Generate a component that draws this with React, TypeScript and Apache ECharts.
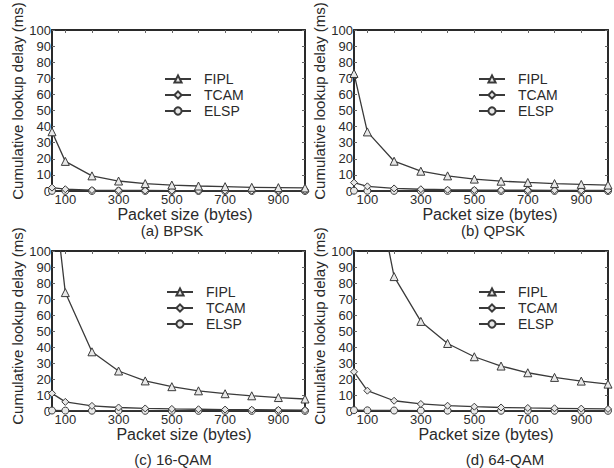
import React, { useEffect, useRef } from "react";
import * as echarts from "echarts";

const packetSizes = [50, 100, 200, 300, 400, 500, 600, 700, 800, 900, 1000];
const xLabelValues = [100, 300, 500, 700, 900];
const xTickValues = [100, 200, 300, 400, 500, 600, 700, 800, 900];
const seriesNames = ["FIPL", "TCAM", "ELSP"];
const panelCaptions = ["(a) BPSK", "(b) QPSK", "(c) 16-QAM", "(d) 64-QAM"];

const bpskFIPL = [36.8, 18.4, 9.4, 6.2, 4.6, 3.7, 3.1, 2.7, 2.3, 2.1, 1.9];
const bpskTCAM = [2.1, 1.1, 0.6, 0.4, 0.3, 0.25, 0.2, 0.18, 0.16, 0.14, 0.12];
const bpskELSP = [0.1, 0.08, 0.06, 0.05, 0.05, 0.04, 0.04, 0.04, 0.03, 0.03, 0.03];

const qpskFIPL = [73, 36.7, 18.5, 12.3, 9.4, 7.4, 6.1, 5.3, 4.6, 4.1, 3.7];
const qpskTCAM = [5.2, 2.9, 1.6, 1.1, 0.8, 0.65, 0.55, 0.5, 0.45, 0.4, 0.35];
const qpskELSP = [0.2, 0.15, 0.1, 0.08, 0.07, 0.06, 0.05, 0.05, 0.04, 0.04, 0.04];

const qam16FIPL = [147, 74, 37, 25, 18.8, 15.2, 12.6, 10.8, 9.5, 8.4, 7.5];
const qam16TCAM = [11, 5.7, 3.2, 2.2, 1.6, 1.3, 1.1, 0.9, 0.8, 0.7, 0.6];
const qam16ELSP = [0.3, 0.25, 0.2, 0.15, 0.12, 0.1, 0.1, 0.09, 0.08, 0.08, 0.07];

const qam64FIPL = [336, 168, 84, 56, 42.2, 33.9, 28.1, 23.9, 21, 18.7, 16.8];
const qam64TCAM = [24.5, 12.7, 6.4, 4.4, 3.3, 2.7, 2.2, 1.9, 1.7, 1.5, 1.3];
const qam64ELSP = [0.5, 0.4, 0.3, 0.25, 0.2, 0.18, 0.16, 0.15, 0.14, 0.13, 0.12];

const panelData = [
  [bpskFIPL, bpskTCAM, bpskELSP],
  [qpskFIPL, qpskTCAM, qpskELSP],
  [qam16FIPL, qam16TCAM, qam16ELSP],
  [qam64FIPL, qam64TCAM, qam64ELSP],
];

const FONT = "'Liberation Sans', Arial, Helvetica, sans-serif";
const INK = "#2a2a2a";

const grids = [
  { left: 52, top: 30, width: 253, height: 161 },
  { left: 354, top: 30, width: 254, height: 161 },
  { left: 52, top: 251, width: 253, height: 160 },
  { left: 354, top: 251, width: 254, height: 160 },
];
const legendPos = [
  { left: 164, top: 72 },
  { left: 478, top: 72 },
  { left: 166, top: 285 },
  { left: 478, top: 285 },
];
const yNamePos = [
  { x: 17, y: 101 },
  { x: 319, y: 101 },
  { x: 17, y: 326 },
  { x: 319, y: 326 },
];
const xNamePos = [
  { x: 185, y: 214 },
  { x: 490, y: 214 },
  { x: 184, y: 434 },
  { x: 486, y: 434 },
];
const captionPos = [
  { x: 172, y: 230 },
  { x: 493, y: 230 },
  { x: 173, y: 459 },
  { x: 505, y: 459 },
];
const symbols = ["triangle", "diamond", "circle"];

function buildOption() {
  const xAxis: any[] = [];
  const yAxis: any[] = [];
  const series: any[] = [];
  const legend: any[] = [];
  const graphic: any[] = [];

  grids.forEach((g, i) => {
    const tick = { show: true, inside: true, length: 3, lineStyle: { color: "#666", width: 1 } };
    xAxis.push({
      type: "value",
      gridIndex: i,
      min: 50,
      max: 1000,
      position: "bottom",
      axisLine: { show: true, onZero: false, lineStyle: { color: INK, width: 2 } },
      axisTick: { ...tick, customValues: xTickValues },
      axisLabel: { customValues: xLabelValues, fontSize: 13, color: INK, fontFamily: FONT, margin: 2 },
      splitLine: { show: false },
    });
    xAxis.push({
      type: "value",
      gridIndex: i,
      min: 50,
      max: 1000,
      position: "top",
      axisLine: { show: true, onZero: false, lineStyle: { color: INK, width: 2 } },
      axisTick: { ...tick, customValues: xTickValues },
      axisLabel: { show: false },
      splitLine: { show: false },
    });
    yAxis.push({
      type: "value",
      gridIndex: i,
      min: 0,
      max: 100,
      interval: 10,
      position: "left",
      axisLine: { show: true, onZero: false, lineStyle: { color: INK, width: 2 } },
      axisTick: tick,
      axisLabel: { fontSize: 13, color: INK, fontFamily: FONT, margin: 1 },
      splitLine: { show: false },
    });
    yAxis.push({
      type: "value",
      gridIndex: i,
      min: 0,
      max: 100,
      interval: 10,
      position: "right",
      axisLine: { show: true, onZero: false, lineStyle: { color: INK, width: 2 } },
      axisTick: tick,
      axisLabel: { show: false },
      splitLine: { show: false },
    });

    panelData[i].forEach((vals, k) => {
      series.push({
        type: "line",
        name: seriesNames[k],
        xAxisIndex: 2 * i,
        yAxisIndex: 2 * i,
        data: packetSizes.map((x, j) => [x, vals[j]]),
        symbol: symbols[k],
        symbolSize: k === 0 ? 8 : 7,
        showAllSymbol: true,
        clip: true,
        lineStyle: { color: "#3a3a3a", width: 1.3 },
        itemStyle: { color: "#e8e8e8", borderColor: "#3a3a3a", borderWidth: 1 },
        z: 3 - k,
      });
    });

    legend.push({
      data: seriesNames,
      orient: "vertical",
      left: legendPos[i].left,
      top: legendPos[i].top,
      itemWidth: 26,
      itemHeight: 9,
      itemGap: 2,
      padding: 0,
      selectedMode: false,
      textStyle: { fontSize: 14, color: INK, fontFamily: FONT, padding: [0, 0, 0, 8] },
    });

    graphic.push({
      type: "text",
      x: yNamePos[i].x,
      y: yNamePos[i].y,
      rotation: Math.PI / 2,
      style: {
        text: "Cumulative lookup delay (ms)",
        font: `15px ${FONT}`,
        fill: INK,
        align: "center",
        verticalAlign: "middle",
      },
    });
    graphic.push({
      type: "text",
      x: xNamePos[i].x,
      y: xNamePos[i].y,
      style: {
        text: "Packet size (bytes)",
        font: `16px ${FONT}`,
        fill: INK,
        align: "center",
        verticalAlign: "middle",
      },
    });
    graphic.push({
      type: "text",
      x: captionPos[i].x,
      y: captionPos[i].y,
      style: {
        text: panelCaptions[i],
        font: `15px ${FONT}`,
        fill: INK,
        align: "center",
        verticalAlign: "middle",
      },
    });
  });

  return {
    animation: false,
    backgroundColor: "#fff",
    grid: grids.map((g) => ({ ...g, show: false, containLabel: false })),
    xAxis,
    yAxis,
    legend,
    series,
    graphic,
  };
}

export default function App() {
  const ref = useRef<HTMLDivElement>(null);
  useEffect(() => {
    if (!ref.current) return;
    const chart = echarts.init(ref.current, undefined, { renderer: "svg" });
    chart.setOption(buildOption() as any);
    return () => chart.dispose();
  }, []);
  return (
    <div
      ref={ref}
      style={{ position: "absolute", left: 0, top: 0, width: 614, height: 468 }}
    />
  );
}
